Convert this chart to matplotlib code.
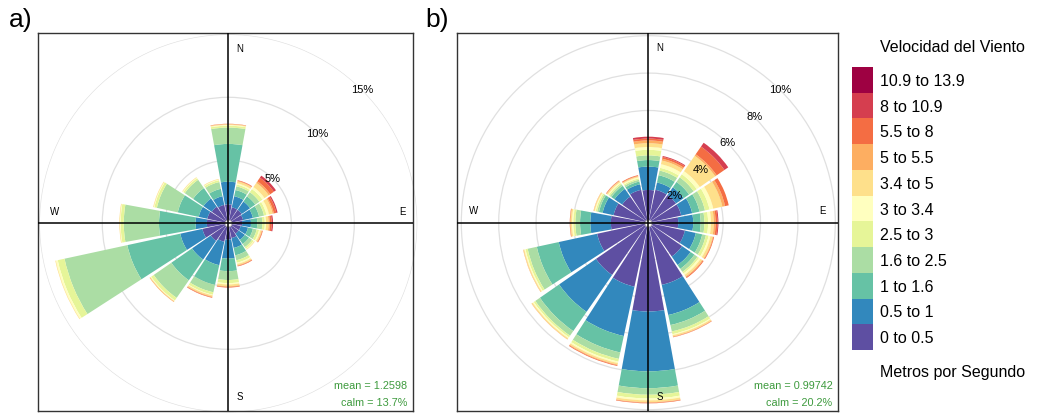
import numpy as np
import matplotlib
matplotlib.use("Agg")
import matplotlib.pyplot as plt
from matplotlib.colors import ListedColormap, BoundaryNorm
from matplotlib.cm import ScalarMappable

plt.rcParams['font.family'] = ['Liberation Sans', 'DejaVu Sans']

# wind speed bins (m/s) and colours
speed_bins = ["0 to 0.5", "0.5 to 1", "1 to 1.6", "1.6 to 2.5", "2.5 to 3", "3 to 3.4",
              "3.4 to 5", "5 to 5.5", "5.5 to 8", "8 to 10.9", "10.9 to 13.9"]
bin_colors = ['#5E4FA2', '#3288BD', '#66C2A5', '#ABDDA4', '#E6F598', '#FFFFBF',
              '#FEE08B', '#FDAE61', '#F46D43', '#D53E4F', '#9E0142']

directions = np.arange(0, 360, 22.5)  # N, NNE, ... NNW

# cumulative frequency (%) per direction, one value per speed bin
rose_a = [
    [1.5, 3.3, 6.3, 7.6, 7.75, 7.8, 7.85, 7.88, 7.9, 7.9, 7.9],        # N
    [1.3, 2.2, 2.7, 3.0, 3.15, 3.25, 3.4, 3.45, 3.5, 3.5, 3.5],        # NNE
    [1.3, 2.1, 2.6, 3.0, 3.3, 3.5, 3.9, 4.05, 4.4, 4.6, 4.6],          # NE
    [1.2, 2.0, 2.5, 2.9, 3.1, 3.3, 3.6, 3.7, 3.9, 4.0, 4.0],           # ENE
    [1.1, 1.8, 2.3, 2.7, 2.9, 3.0, 3.2, 3.3, 3.45, 3.55, 3.55],        # E
    [1.0, 1.6, 2.0, 2.3, 2.5, 2.6, 2.7, 2.75, 2.8, 2.8, 2.8],          # ESE
    [1.0, 1.6, 2.0, 2.3, 2.45, 2.5, 2.55, 2.55, 2.55, 2.55, 2.55],     # SE
    [1.2, 2.0, 2.6, 3.0, 3.2, 3.3, 3.4, 3.45, 3.5, 3.5, 3.5],          # SSE
    [1.3, 2.8, 3.8, 4.5, 4.75, 4.85, 5.0, 5.05, 5.1, 5.1, 5.1],        # S
    [1.5, 3.4, 5.0, 5.6, 5.8, 5.85, 5.95, 6.0, 6.05, 6.05, 6.05],      # SSW
    [1.7, 3.5, 5.5, 7.2, 7.45, 7.5, 7.55, 7.6, 7.6, 7.6, 7.6],         # SW
    [2.1, 3.9, 8.2, 13.3, 13.85, 14.0, 14.05, 14.05, 14.05, 14.05, 14.05],  # WSW
    [1.7, 2.6, 5.5, 8.3, 8.55, 8.6, 8.65, 8.65, 8.65, 8.65, 8.65],     # W
    [1.7, 2.4, 4.1, 5.8, 6.0, 6.05, 6.1, 6.1, 6.1, 6.1, 6.1],          # WNW
    [1.6, 2.4, 3.4, 4.2, 4.35, 4.4, 4.45, 4.45, 4.45, 4.45, 4.45],     # NW
    [1.5, 2.2, 2.8, 3.35, 3.5, 3.55, 3.6, 3.6, 3.6, 3.6, 3.6],         # NNW
]

rose_b = [
    [1.75, 3.0, 3.35, 3.6, 3.9, 4.05, 4.25, 4.4, 4.5, 4.6, 4.6],       # N
    [1.8, 2.2, 2.6, 2.85, 3.0, 3.2, 3.4, 3.5, 3.6, 3.65, 3.65],        # NNE
    [1.8, 2.3, 2.65, 2.95, 3.15, 3.35, 4.35, 4.45, 4.95, 5.2, 5.2],    # NE
    [1.8, 2.4, 2.8, 3.1, 3.35, 3.55, 4.05, 4.2, 4.4, 4.4, 4.4],        # ENE
    [1.6, 2.4, 2.8, 3.0, 3.2, 3.35, 3.5, 3.6, 3.7, 3.75, 3.75],        # E
    [2.0, 2.6, 2.95, 3.15, 3.3, 3.4, 3.52, 3.56, 3.6, 3.6, 3.6],       # ESE
    [2.2, 2.75, 3.0, 3.2, 3.3, 3.4, 3.5, 3.55, 3.6, 3.6, 3.6],         # SE
    [3.4, 5.05, 5.6, 5.95, 6.1, 6.15, 6.22, 6.25, 6.27, 6.27, 6.27],   # SSE
    [4.75, 7.95, 8.85, 9.2, 9.4, 9.5, 9.6, 9.63, 9.66, 9.66, 9.66],    # S
    [3.5, 6.2, 7.1, 7.45, 7.6, 7.68, 7.76, 7.8, 7.84, 7.84, 7.84],     # SSW
    [3.4, 5.8, 7.05, 7.35, 7.45, 7.52, 7.58, 7.6, 7.6, 7.6, 7.6],      # SW
    [2.8, 4.9, 6.1, 6.6, 6.72, 6.78, 6.83, 6.85, 6.85, 6.85, 6.85],    # WSW
    [2.0, 3.1, 3.65, 3.9, 4.0, 4.08, 4.15, 4.18, 4.2, 4.2, 4.2],       # W
    [1.9, 2.5, 2.7, 2.8, 2.88, 2.93, 2.98, 3.0, 3.0, 3.0, 3.0],        # WNW
    [1.7, 2.2, 2.4, 2.5, 2.58, 2.63, 2.7, 2.72, 2.75, 2.75, 2.75],     # NW
    [1.8, 2.1, 2.25, 2.35, 2.42, 2.48, 2.53, 2.56, 2.6, 2.6, 2.6],     # NNW
]

rings_a = [5, 10, 15]
rings_b = [2, 4, 6, 8, 10]
stats_a = ["mean = 1.2598", "calm = 13.7%"]
stats_b = ["mean = 0.99742", "calm = 20.2%"]

W, H = 1037, 415


def rect(x0, y0, x1, y1):
    return [x0 / W, 1 - y1 / H, (x1 - x0) / W, (y1 - y0) / H]


fig = plt.figure(figsize=(W / 100, H / 100), dpi=100)


def wind_rose(table, rings, stats, center, scale, rmax, box, tag, tag_x):
    cx, cy = center
    rpx = rmax * scale
    # polar axes for the bars
    ax = fig.add_axes(rect(cx - rpx, cy - rpx, cx + rpx, cy + rpx), projection='polar')
    ax.set_theta_zero_location('N')
    ax.set_theta_direction(-1)
    ax.set_ylim(0, rmax)
    ax.set_rgrids(rings, labels=[''] * len(rings))
    ax.yaxis.grid(True, color='#e0e0e0', linewidth=0.9)
    ax.xaxis.grid(False)
    ax.set_xticks([])
    ax.spines['polar'].set_visible(False)
    ax.set_facecolor('none')

    cum = np.array(table)
    seg = np.diff(np.hstack([np.zeros((cum.shape[0], 1)), cum]), axis=1)
    theta = np.radians(directions)
    width = np.radians(20.6)
    for k in range(len(speed_bins)):
        bottom = cum[:, k] - seg[:, k]
        ax.bar(theta, seg[:, k], width=width, bottom=bottom, color=bin_colors[k],
               linewidth=0, zorder=2)
    ax.plot([0], [0], 'o', ms=5, mfc='white', mec='#aaaaaa', mew=0.6, zorder=5)

    # frame axes with cross, labels and stats
    x0, y0, x1, y1 = box
    fx = fig.add_axes(rect(x0, y0, x1, y1))
    fx.set_xlim((x0 - cx) / scale, (x1 - cx) / scale)
    fx.set_ylim((cy - y1) / scale, (cy - y0) / scale)
    fx.set_facecolor('none')
    fx.set_xticks([])
    fx.set_yticks([])
    for s in fx.spines.values():
        s.set_color('#333333')
        s.set_linewidth(1.0)
    fx.axhline(0, color='black', lw=1.1, zorder=3)
    fx.axvline(0, color='black', lw=1.1, zorder=3)
    off = 0.92 * rmax
    d = 0.06 * rmax
    fx.text(d, off, 'N', fontsize=7, ha='center', va='center')
    fx.text(d, -off, 'S', fontsize=7, ha='center', va='center')
    fx.text(off, d, 'E', fontsize=7, ha='center', va='center')
    fx.text(-off, d, 'W', fontsize=7, ha='center', va='center')
    for r in rings:
        fx.text(r * np.cos(np.pi / 4), r * np.sin(np.pi / 4), f'{r}%', fontsize=8,
                ha='center', va='center', zorder=4)
    fx.text(0.985, 0.065, stats[0], transform=fx.transAxes, ha='right', va='center',
            fontsize=7.8, color='#3d9a3d')
    fx.text(0.985, 0.02, stats[1], transform=fx.transAxes, ha='right', va='center',
            fontsize=7.8, color='#3d9a3d')
    fig.text(tag_x / W, 1 - 20 / H, tag, fontsize=19, ha='left', va='center')


wind_rose(rose_a, rings_a, stats_a, (228.3, 223.3), 12.6, 15.0, (38, 33, 413, 411), 'a)', 9)
wind_rose(rose_b, rings_b, stats_b, (648.3, 222.7), 18.7, 10.15, (457, 33, 838, 411), 'b)', 425)

# legend
cax = fig.add_axes(rect(851.7, 67, 872.7, 350))
cmap = ListedColormap(bin_colors)
norm = BoundaryNorm(np.arange(len(bin_colors) + 1), len(bin_colors))
cb = fig.colorbar(ScalarMappable(norm=norm, cmap=cmap), cax=cax,
                  ticks=np.arange(len(bin_colors)) + 0.5)
cb.set_ticklabels(speed_bins)
cb.ax.minorticks_off()
cb.ax.tick_params(which='both', length=0, labelsize=11.5, pad=5)
cb.outline.set_visible(False)
fig.text(880 / W, 1 - 48 / H, 'Velocidad del Viento', fontsize=11.5, va='center')
fig.text(880 / W, 1 - 372 / H, 'Metros por Segundo', fontsize=11.5, va='center')

fig.savefig('out.png', dpi=100, facecolor='white')
